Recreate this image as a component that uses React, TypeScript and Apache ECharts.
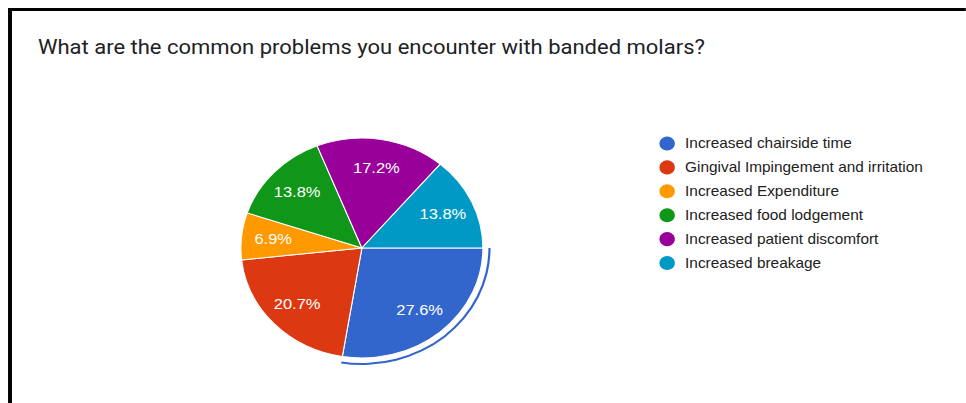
import React, { useEffect, useRef } from "react";
import * as echarts from "echarts";

const titleText = "What are the common problems you encounter with banded molars?";
const categories = [
  "Increased chairside time",
  "Gingival Impingement and irritation",
  "Increased Expenditure",
  "Increased food lodgement",
  "Increased patient discomfort",
  "Increased breakage",
];
const counts = [8, 6, 2, 4, 5, 4];
const colors = ["#3366cc", "#dc3912", "#ff9900", "#109618", "#990099", "#0099c6"];

const SX = 1.1; // horizontal stretch of the reference screenshot
const W = 966 / SX;
const H = 403;

export default function App() {
  const ref = useRef<HTMLDivElement>(null);
  useEffect(() => {
    if (!ref.current) return;
    const chart = echarts.init(ref.current, null, { renderer: "svg" });
    const total = counts.reduce((a, b) => a + b, 0);
    const center = [329, 248];
    const R = 110;
    const mainData = categories.map((c, i) => ({
      name: c,
      value: counts[i],
      itemStyle: { color: colors[i] },
    }));
    const labelData = categories.map((c, i) => ({ name: c, value: counts[i] }));
    const arcData = categories.map((c, i) => ({
      name: "hl-" + i,
      value: counts[i],
      itemStyle: { color: i === 0 ? colors[0] : "rgba(0,0,0,0)" },
    }));
    chart.setOption({
      animation: false,
      backgroundColor: "#ffffff",
      title: {
        text: titleText,
        left: 34.5,
        top: 37,
        padding: 0,
        textStyle: {
          fontFamily: "Roboto, 'Noto Sans', sans-serif",
          fontSize: 20,
          fontWeight: 400,
          color: "#202124",
        },
      },
      legend: {
        orient: "vertical",
        left: 597.5,
        top: 134.5,
        padding: 0,
        icon: "circle",
        itemWidth: 16,
        itemHeight: 17,
        itemGap: 5.9,
        selectedMode: false,
        data: categories,
        textStyle: {
          fontFamily: "'Liberation Sans', Arial, sans-serif",
          fontSize: 14,
          lineHeight: 14,
          color: "#222222",
          padding: [0, 0, 0, 3.3],
        },
      },
      graphic: [
        { type: "rect", left: 7.3, top: 8, shape: { width: W, height: 3 }, style: { fill: "#000" }, silent: true },
        { type: "rect", left: 7.3, top: 8, shape: { width: 3.6, height: H }, style: { fill: "#000" }, silent: true },
      ],
      series: [
        {
          type: "pie",
          center,
          radius: [0, R],
          startAngle: 0,
          clockwise: true,
          data: mainData,
          label: { show: false },
          labelLine: { show: false },
          itemStyle: { borderColor: "#ffffff", borderWidth: 1 },
          emphasis: { disabled: true },
          silent: true,
        },
        {
          type: "pie",
          center,
          radius: [R * 0.42, R],
          startAngle: 0,
          clockwise: true,
          data: labelData,
          itemStyle: { color: "rgba(0,0,0,0)" },
          label: {
            show: true,
            position: "inside",
            formatter: (p: any) => ((p.value / total) * 100).toFixed(1) + "%",
            color: "#ffffff",
            fontFamily: "'Liberation Sans', Arial, sans-serif",
            fontSize: 15,
          },
          labelLine: { show: false },
          emphasis: { disabled: true },
          silent: true,
        },
        {
          type: "pie",
          center,
          radius: [R + 5, R + 7],
          startAngle: 0,
          clockwise: true,
          data: arcData,
          label: { show: false },
          labelLine: { show: false },
          emphasis: { disabled: true },
          silent: true,
        },
      ],
    });
    return () => chart.dispose();
  }, []);
  return (
    <div
      style={{
        position: "fixed",
        left: 0,
        top: 0,
        width: 966,
        height: 403,
        overflow: "hidden",
        background: "#fff",
      }}
    >
      <div
        ref={ref}
        style={{
          width: W,
          height: H,
          transform: `scaleX(${SX})`,
          transformOrigin: "0 0",
        }}
      />
    </div>
  );
}
